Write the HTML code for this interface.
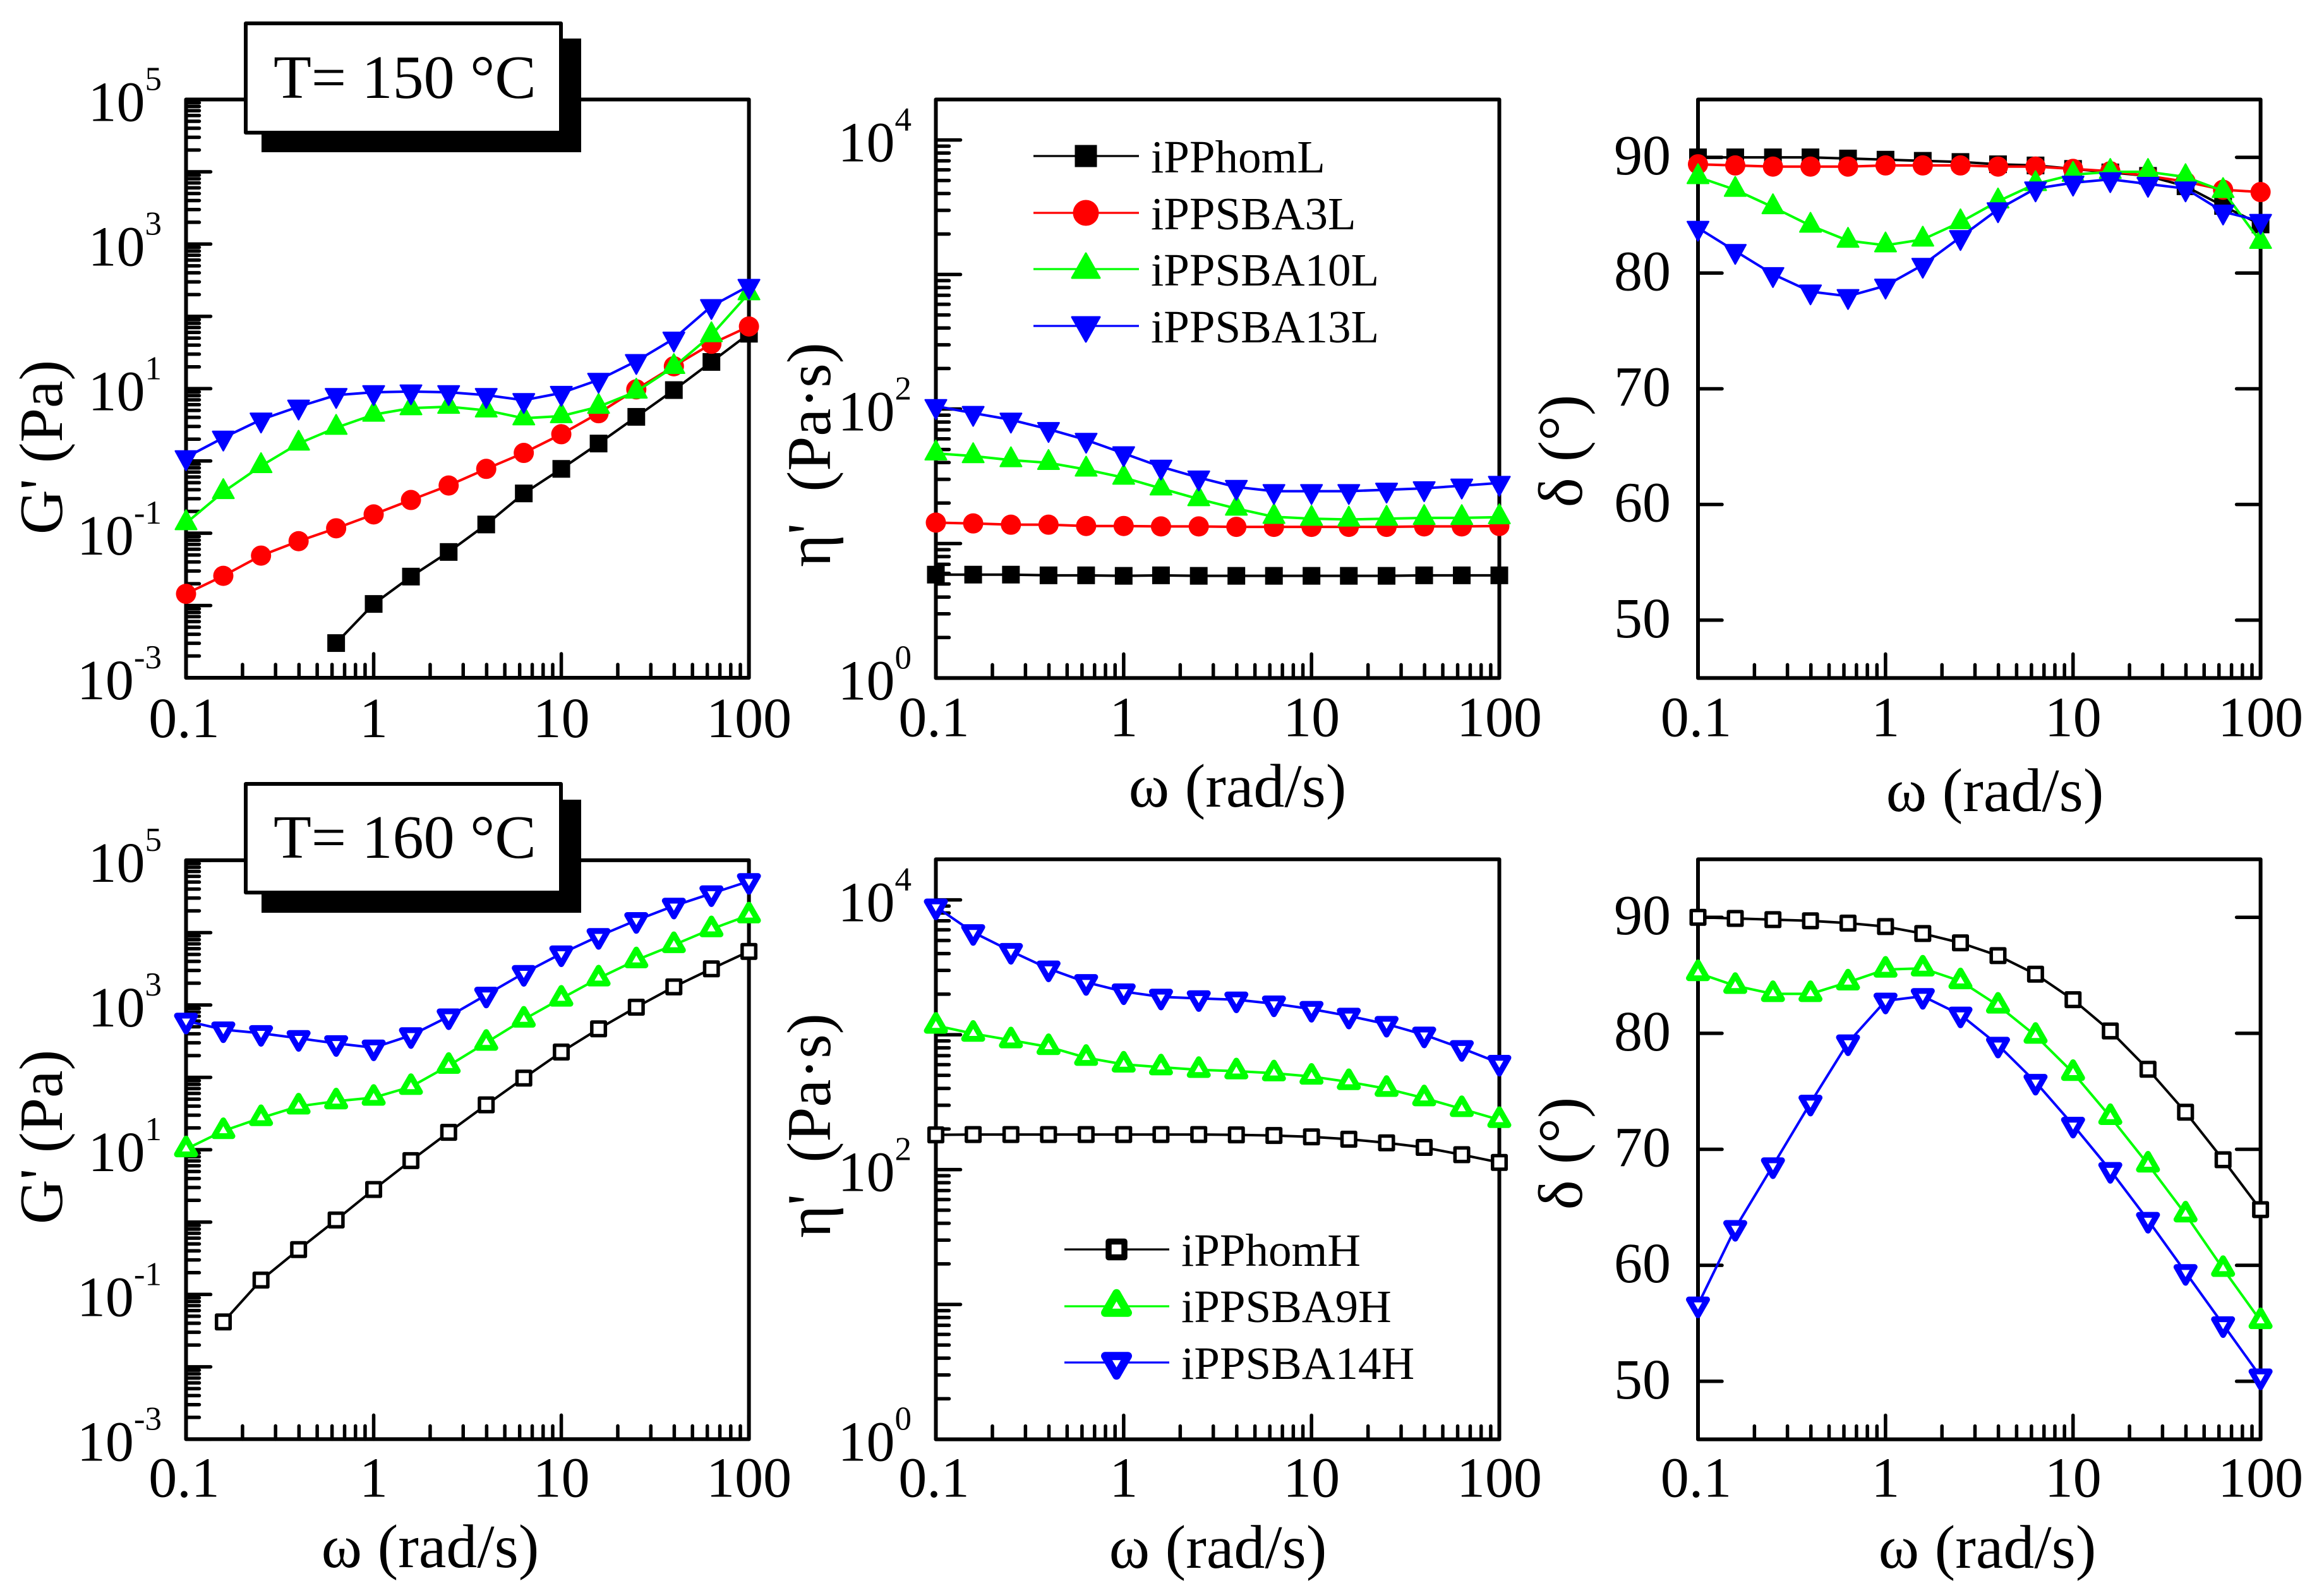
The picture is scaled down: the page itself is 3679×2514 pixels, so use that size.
<!DOCTYPE html>
<html lang="en">
<head>
<meta charset="utf-8">
<title>Rheology of iPP and iPPSBA blends at 150 and 160 °C</title>
<style>
html,body{margin:0;padding:0;background:#fff;}
svg{display:block;}
text{font-family:"Liberation Serif","DejaVu Serif",serif;fill:#000;}
</style>
</head>
<body>
<svg id="figure" xmlns="http://www.w3.org/2000/svg" width="3679" height="2514" viewBox="0 0 3679 2514">
  <rect x="0" y="0" width="3679" height="2514" fill="#fff"/>
  <g id="plots"></g>

  <g>
    <rect x="414" y="61" width="506" height="180" fill="#000"/>
    <rect x="389" y="37" width="499" height="173" fill="#fff" stroke="#000" stroke-width="6" stroke-linejoin="round"/>
    <text x="433" y="155" font-size="98">T= 150 °C</text>
  </g>
  <g>
    <rect x="414" y="1266" width="506" height="179" fill="#000"/>
    <rect x="389" y="1241" width="499" height="172" fill="#fff" stroke="#000" stroke-width="6" stroke-linejoin="round"/>
    <text x="433" y="1358" font-size="98">T= 160 °C</text>
  </g>

  <g font-size="98" text-anchor="middle">
    <text transform="translate(98 708) rotate(-90)">G' (Pa)</text>
    <text transform="translate(1314 720) rotate(-90)" font-size="99">η'&#160; (Pa·s)</text>
    <text transform="translate(2504 714) rotate(-90)" font-size="100">δ (°)</text>
    <text transform="translate(98 1800) rotate(-90)">G' (Pa)</text>
    <text transform="translate(1314 1782) rotate(-90)" font-size="99">η'&#160; (Pa·s)</text>
    <text transform="translate(2504 1826) rotate(-90)" font-size="100">δ (°)</text>
    <text x="1959" y="1277">ω (rad/s)</text>
    <text x="3158" y="1284">ω (rad/s)</text>
    <text x="681" y="2481">ω (rad/s)</text>
    <text x="1928" y="2482">ω (rad/s)</text>
    <text x="3146" y="2482">ω (rad/s)</text>
  </g>

  <g id="legend-top" font-size="73">
    <text x="1822" y="273">iPPhomL</text>
    <text x="1822" y="363">iPPSBA3L</text>
    <text x="1822" y="452">iPPSBA10L</text>
    <text x="1822" y="542">iPPSBA13L</text>
  </g>
  <g id="legend-bottom" font-size="73">
    <text x="1870" y="2004">iPPhomH</text>
    <text x="1870" y="2093">iPPSBA9H</text>
    <text x="1870" y="2183">iPPSBA14H</text>
  </g>
</svg>

<script>
// ---------- data ----------
const omega = [0.1,0.158,0.251,0.398,0.631,1,1.58,2.51,3.98,6.31,10,15.8,25.1,39.8,63.1,100];

// T = 150 °C, storage modulus G' (Pa)
const gHomL   = [null,null,null,null,0.00302,0.0105,0.0251,0.055,0.132,0.355,0.776,1.74,4.07,9.55,23.4,57.5];
const gSba3L  = [0.0145,0.0257,0.049,0.0776,0.117,0.182,0.288,0.457,0.776,1.29,2.34,4.57,9.77,20.4,41.7,72.4];
const gSba10L = [0.138,0.372,0.851,1.74,2.88,4.37,5.37,5.62,5.01,3.89,4.17,5.62,9.12,20,55,209];
const gSba13L = [1.12,2.09,3.72,5.62,8.13,8.91,9.12,8.91,8.13,6.92,8.71,13.2,24,49,138,263];

// T = 150 °C, viscosity η' (Pa·s)
const etaHomL   = [5.87,5.87,5.87,5.8,5.8,5.75,5.8,5.75,5.75,5.75,5.75,5.75,5.75,5.8,5.8,5.8];
const etaSba3L  = [14.3,14.1,13.8,13.8,13.5,13.5,13.4,13.4,13.3,13.3,13.3,13.3,13.3,13.4,13.4,13.5];
const etaSba10L = [46.8,44.7,41.7,39.8,35.5,30.9,25.7,21.4,18.2,15.8,15.3,15.1,15.3,15.5,15.5,15.7];
const etaSba13L = [105,93.3,83.2,70.8,58.9,46.8,37.2,30.9,26.3,24.5,24.5,24.5,25.1,25.7,26.9,28.2];

// T = 150 °C, loss angle δ (°)
const deltaHomL   = [90,90,90,90,89.9,89.8,89.7,89.6,89.4,89.3,89,88.7,88.4,87.5,85.8,84.2];
const deltaSba3L  = [89.4,89.3,89.2,89.2,89.2,89.3,89.3,89.3,89.2,89.2,89,88.8,88.4,87.9,87.2,87];
const deltaSba10L = [88.3,87.2,85.7,84.1,82.8,82.4,82.9,84.4,86.2,87.7,88.5,88.75,88.75,88.3,87.1,82.7];
const deltaSba13L = [83.9,81.9,79.9,78.4,78,78.9,80.7,83.1,85.5,87.3,87.8,88.1,87.7,87.3,85.3,84.5];

// T = 160 °C, storage modulus G' (Pa)
const gHomH   = [null,0.0417,0.158,0.417,1.07,2.82,7.08,17.4,41.7,97.7,224,468,933,1780,3160,5500];
const gSba9H  = [10.2,18.2,27.5,39.8,46.8,52.5,74.1,145,302,631,1230,2340,4170,6760,11200,17400];
const gSba14H = [603,457,407,347,295,257,380,692,1380,2750,5130,8910,14800,23400,34700,51300];

// T = 160 °C, viscosity η' (Pa·s)
const etaHomH   = [181,182,182,182,182,182,182,182,181,179,175,168,158,146,129,113];
const etaSba9H  = [1170,1020,912,813,676,603,575,550,537,519,490,447,398,339,282,234];
const etaSba14H = [8910,5750,4170,3090,2450,2090,1910,1860,1820,1700,1550,1380,1200,1000,794,617];

// T = 160 °C, loss angle δ (°)
const deltaHomH   = [90,89.9,89.8,89.7,89.5,89.2,88.6,87.8,86.7,85.1,82.9,80.2,76.9,73.2,69.1,64.8];
const deltaSba9H  = [85.2,84.1,83.4,83.4,84.4,85.5,85.6,84.5,82.4,79.8,76.6,72.8,68.7,64.4,59.7,55.2];
const deltaSba14H = [56.6,63.2,68.6,74,79.2,82.8,83.2,81.6,79,75.8,72.1,68.2,63.9,59.4,54.9,50.4];

// Tick labels
const xTickValues = [0.1,1,10,100];
const xTickLabels = ['0.1','1','10','100'];
const gTickExponents = [-3,-1,1,3,5];
const etaTickExponents = [0,2,4];
const deltaTicks = [50,60,70,80,90];

// ---------- drawing ----------
const NS = 'http://www.w3.org/2000/svg';
const plots = document.getElementById('plots');
const BLACK = '#000000', RED = '#ff0000', GREEN = '#00ff00', BLUE = '#0000ff';
const TICK_W = 5.5;

function shape(tag, parent, attrs) {
  const el = document.createElementNS(NS, tag);
  for (const k in attrs) el.setAttribute(k, attrs[k]);
  parent.appendChild(el);
  return el;
}

function triPoints(kind, cx, cy, hw, flat, apex) {
  const d = kind === 'up' ? 1 : -1;
  return [cx, cy - d * apex, cx + hw, cy + d * flat, cx - hw, cy + d * flat].join(' ');
}

function marker(parent, name, kind, filled, color, cx, cy, big) {
  let el;
  if (filled) {
    if (kind === 'square') {
      const s = big ? 35 : 28;
      el = shape('rect', parent, {x: cx - s / 2, y: cy - s / 2, width: s, height: s, fill: color});
    } else if (kind === 'circle') {
      el = shape('circle', parent, {cx: cx, cy: cy, r: big ? 20.5 : 16, fill: color});
    } else {
      el = shape('polygon', parent, big
        ? {points: triPoints(kind, cx, cy, 22, 14, 25), fill: color, stroke: color, 'stroke-width': 3, 'stroke-linejoin': 'round'}
        : {points: triPoints(kind, cx, cy, 16.8, 10, 20.5), fill: color, stroke: color, 'stroke-width': 2.5, 'stroke-linejoin': 'round'});
    }
  } else {
    if (kind === 'square') {
      const s = big ? 25 : 21.5;
      el = shape('rect', parent, {x: cx - s / 2, y: cy - s / 2, width: s, height: s, fill: '#fff', stroke: color, 'stroke-width': big ? 9.5 : 5.5, 'stroke-linejoin': 'round'});
    } else {
      el = shape('polygon', parent, big
        ? {points: triPoints(kind, cx, cy, 18, 10.3, 20.7), fill: '#fff', stroke: color, 'stroke-width': 13, 'stroke-linejoin': 'round'}
        : {points: triPoints(kind, cx, cy, 14.4, 8.3, 16.7), fill: '#fff', stroke: color, 'stroke-width': 9.2, 'stroke-linejoin': 'round'});
    }
  }
  
  
  return el;
}

function drawPanel(p) {
  const g = shape('g', plots, {});
  
  

  const xs = v => p.left + (Math.log10(v) - Math.log10(0.1)) / 3 * (p.right - p.left);
  const ys = p.log
    ? v => p.bottom - (Math.log10(v) - Math.log10(p.yMin)) / (Math.log10(p.yMax) - Math.log10(p.yMin)) * (p.bottom - p.top)
    : v => p.bottom - (v - p.yMin) / (p.yMax - p.yMin) * (p.bottom - p.top);

  // X ticks
  for (let e = -1; e <= 1; e++) {
    for (let m = 2; m <= 9; m++) {
      const v = m * Math.pow(10, e);
      const t = shape('line', g, {x1: xs(v), x2: xs(v), y1: p.bottom, y2: p.bottom - 21, stroke: '#000', 'stroke-width': TICK_W, 'stroke-linecap': 'round'});
      
      
    }
  }
  xTickValues.forEach((v, i) => {
    const t = shape('line', g, {x1: xs(v), x2: xs(v), y1: p.bottom, y2: p.bottom - 38, stroke: '#000', 'stroke-width': TICK_W, 'stroke-linecap': 'round'});
    
    
    const l = shape('text', g, {x: xs(v) - (i === 0 ? 3 : 0), y: p.bottom + p.xLabelDy, 'font-size': 90, 'text-anchor': 'middle'});
    l.textContent = xTickLabels[i];
    
    
  });

  // Y ticks
  if (p.log) {
    const loE = Math.round(Math.log10(p.yMin));
    const hiE = Math.ceil(Math.log10(p.yMax));
    for (let e = loE; e <= hiE; e++) {
      const major = Math.pow(10, e);
      if (major <= p.yMax) {
        const t = shape('line', g, {x1: p.left, x2: p.left + 39, y1: ys(major), y2: ys(major), stroke: '#000', 'stroke-width': TICK_W, 'stroke-linecap': 'round'});
        
        
      }
      for (let m = 2; m <= 9; m++) {
        const v = m * major;
        if (v > p.yMax * 1.001) continue;
        const t = shape('line', g, {x1: p.left, x2: p.left + 21, y1: ys(v), y2: ys(v), stroke: '#000', 'stroke-width': TICK_W, 'stroke-linecap': 'round'});
        
        
      }
    }
    p.exponents.forEach(e => {
      const l = shape('text', g, {x: p.left - 38.5, y: ys(Math.pow(10, e)) + 34, 'font-size': 90, 'text-anchor': 'end'});
      
      
      l.appendChild(document.createTextNode('10'));
      const sup = shape('tspan', l, {dy: -49, 'font-size': 53});
      sup.textContent = String(e);
    });
  } else {
    deltaTicks.forEach(v => {
      const t1 = shape('line', g, {x1: p.left, x2: p.left + 38, y1: ys(v), y2: ys(v), stroke: '#000', 'stroke-width': TICK_W, 'stroke-linecap': 'round'});
      
      
      const t2 = shape('line', g, {x1: p.right, x2: p.right - 38, y1: ys(v), y2: ys(v), stroke: '#000', 'stroke-width': TICK_W, 'stroke-linecap': 'round'});
      
      
      const l = shape('text', g, {x: p.left - 43, y: ys(v) + 27, 'font-size': 90, 'text-anchor': 'end'});
      l.textContent = String(v);
      
      
    });
  }

  // Axis frame
  const frame = shape('rect', g, {x: p.left, y: p.top, width: p.right - p.left, height: p.bottom - p.top, fill: 'none', stroke: '#000', 'stroke-width': 6, 'stroke-linejoin': 'round'});
  
  

  // Series
  p.series.forEach(s => {
    const sg = shape('g', g, {});
    
    
    const pts = [];
    s.values.forEach((v, i) => { if (v !== null) pts.push([xs(omega[i]), ys(v)]); });
    const line = shape('polyline', sg, {points: pts.map(q => q.join(',')).join(' '), fill: 'none', stroke: s.color, 'stroke-width': 4, 'stroke-linejoin': 'round'});
    
    
    pts.forEach(q => marker(sg, 'point-' + s.name, s.kind, s.filled, s.color, q[0], q[1], false));
  });
}

function legendEntry(parentId, name, kind, filled, color, x1, x2, cx, y) {
  const parent = document.getElementById(parentId);
  const line = shape('line', parent, {x1: x1, x2: x2, y1: y, y2: y, stroke: color, 'stroke-width': 3.2});
  
  
  marker(parent, 'legend-marker-' + name, kind, filled, color, cx, y, true);
}

const LEFT_COLS = {left: 294.5, right: 1185.6};
const MID_COLS = {left: 1481.5, right: 2373.5};
const RIGHT_COLS = {left: 2688, right: 3578.6};

function topSeries(a, b, c, d) {
  return [
    {name: 'iPPhomL', values: a, color: BLACK, kind: 'square', filled: true},
    {name: 'iPPSBA3L', values: b, color: RED, kind: 'circle', filled: true},
    {name: 'iPPSBA10L', values: c, color: GREEN, kind: 'up', filled: true},
    {name: 'iPPSBA13L', values: d, color: BLUE, kind: 'down', filled: true}
  ];
}
function bottomSeries(a, b, c) {
  return [
    {name: 'iPPhomH', values: a, color: BLACK, kind: 'square', filled: false},
    {name: 'iPPSBA9H', values: b, color: GREEN, kind: 'up', filled: false},
    {name: 'iPPSBA14H', values: c, color: BLUE, kind: 'down', filled: false}
  ];
}

drawPanel({id: 'storage-150', ...LEFT_COLS, top: 157.5, bottom: 1073, log: true, yMin: 1e-3, yMax: 1e5, exponents: gTickExponents, xLabelDy: 94,
  series: topSeries(gHomL, gSba3L, gSba10L, gSba13L)});
drawPanel({id: 'viscosity-150', ...MID_COLS, top: 157.5, bottom: 1073.4, log: true, yMin: 1, yMax: 2e4, exponents: etaTickExponents, xLabelDy: 92,
  series: topSeries(etaHomL, etaSba3L, etaSba10L, etaSba13L)});
drawPanel({id: 'delta-150', ...RIGHT_COLS, top: 157.5, bottom: 1073.4, log: false, yMin: 45, yMax: 95, xLabelDy: 92,
  series: topSeries(deltaHomL, deltaSba3L, deltaSba10L, deltaSba13L)});
drawPanel({id: 'storage-160', ...LEFT_COLS, top: 1361.9, bottom: 2278.4, log: true, yMin: 1e-3, yMax: 1e5, exponents: gTickExponents, xLabelDy: 91,
  series: bottomSeries(gHomH, gSba9H, gSba14H)});
drawPanel({id: 'viscosity-160', ...MID_COLS, top: 1360.4, bottom: 2278.6, log: true, yMin: 1, yMax: 2e4, exponents: etaTickExponents, xLabelDy: 91,
  series: bottomSeries(etaHomH, etaSba9H, etaSba14H)});
drawPanel({id: 'delta-160', ...RIGHT_COLS, top: 1360.4, bottom: 2278.6, log: false, yMin: 45, yMax: 95, xLabelDy: 91,
  series: bottomSeries(deltaHomH, deltaSba9H, deltaSba14H)});

legendEntry('legend-top', 'iPPhomL', 'square', true, BLACK, 1636, 1803, 1719, 247);
legendEntry('legend-top', 'iPPSBA3L', 'circle', true, RED, 1636, 1803, 1719, 337);
legendEntry('legend-top', 'iPPSBA10L', 'up', true, GREEN, 1636, 1803, 1719, 426);
legendEntry('legend-top', 'iPPSBA13L', 'down', true, BLUE, 1636, 1803, 1719, 516);
legendEntry('legend-bottom', 'iPPhomH', 'square', false, BLACK, 1685, 1851, 1767.5, 1978);
legendEntry('legend-bottom', 'iPPSBA9H', 'up', false, GREEN, 1685, 1851, 1767.5, 2068);
legendEntry('legend-bottom', 'iPPSBA14H', 'down', false, BLUE, 1685, 1851, 1767.5, 2157);
</script>
</body>
</html>
